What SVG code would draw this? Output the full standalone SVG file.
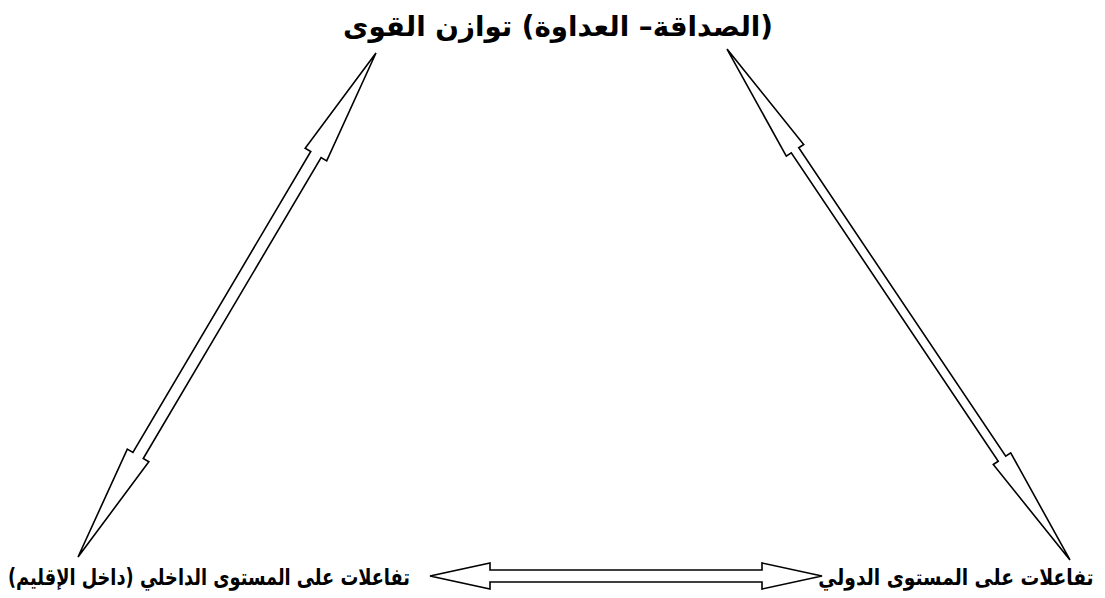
<svg xmlns="http://www.w3.org/2000/svg" width="1105" height="598" viewBox="0 0 1105 598">
<style>
.lbl{font-family:"DejaVu Sans","Noto Sans",sans-serif;font-weight:bold;fill:#000;text-anchor:middle;direction:rtl}
.arr{fill:#fff;stroke:#000;stroke-width:1.6;stroke-linejoin:miter}
</style>
<rect width="1105" height="598" fill="#fff"/>
<g id="connectors">
<polygon class="arr" transform="translate(227,305) rotate(-59.41)" points="292.75,0 174.75,-12.5 174.75,-6 -174.75,-6 -174.75,-12.5 -292.75,0 -174.75,12.5 -174.75,6 174.75,6 174.75,12.5"/>
<polygon class="arr" transform="translate(898.5,304.5) rotate(56.13)" points="307.7,0 185.7,-10.5 185.7,-4.5 -185.7,-4.5 -185.7,-10.5 -307.7,0 -185.7,10.5 -185.7,4.5 185.7,4.5 185.7,10.5"/>
<polygon class="arr" transform="translate(626,576)" points="196,0 136,-13 136,-6 -136,-6 -136,-13 -196,0 -136,13 -136,6 136,6 136,13"/>
</g>
<g id="node-top"><text class="lbl" x="558" y="36" font-size="28" textLength="430" lengthAdjust="spacingAndGlyphs">(الصداقة– العداوة) توازن القوى</text></g>
<g id="node-left"><text class="lbl" x="209" y="585" font-size="23" textLength="402" lengthAdjust="spacingAndGlyphs">تفاعلات على المستوى الداخلي (داخل الإقليم)</text></g>
<g id="node-right"><text class="lbl" x="0" y="0" font-size="22" transform="translate(956,585) scale(0.85,1)">تفاعلات على المستوى الدولي</text></g>
</svg>
